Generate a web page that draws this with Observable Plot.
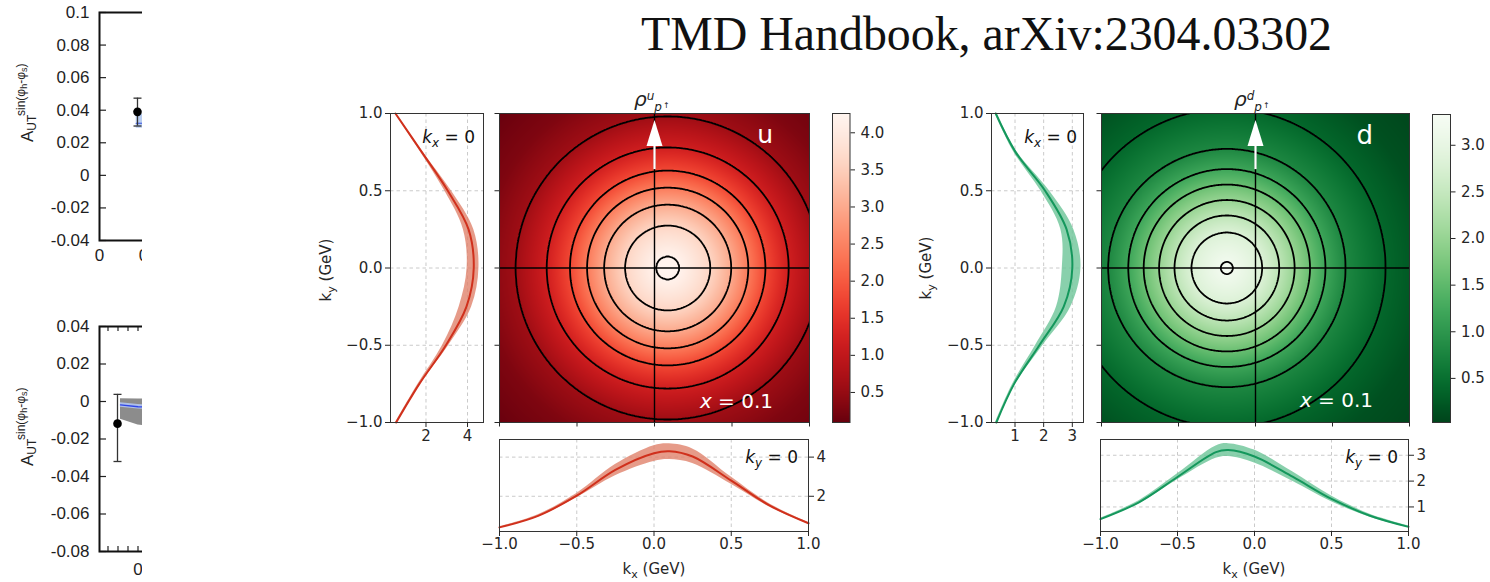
<!DOCTYPE html>
<html><head><meta charset="utf-8">
<script src="https://cdn.jsdelivr.net/npm/d3@7"></script>
<script src="https://cdn.jsdelivr.net/npm/@observablehq/plot@0.6"></script>
<style>
html,body{margin:0;padding:0;background:#fff;}
#fig{position:relative;width:1490px;height:582px;overflow:hidden;background:#fff;}
#fig svg{max-width:none !important;}
</style></head><body><div id="fig"></div>
<script>
// ---------------- DATA ----------------
// left fragment: A_UT asymmetry panels
const aTopYTicks = [-0.04, -0.02, 0, 0.02, 0.04, 0.06, 0.08, 0.1];
const aTopXTicks = [0, 0.1];
const aTopPtX = [0.0745], aTopPtY = [0.039], aTopPtLo = [0.0303], aTopPtHi = [0.0474];
const aTopBandX = [0.072, 0.1, 0.2], aTopBandLo = [0.029, 0.029, 0.029], aTopBandHi = [0.0375, 0.0375, 0.0375], aTopBandMid = [0.032, 0.032, 0.032];

const aBotYTicks = [-0.08, -0.06, -0.04, -0.02, 0, 0.02, 0.04];
const aBotXMinor = [-0.06, -0.04, -0.02, 0];
const aBotXTicks = [0];
const aBotPtX = [-0.041], aBotPtY = [-0.0118], aBotPtLo = [-0.032], aBotPtHi = [0.0038];
const aBotBandX = [-0.035, 0, 0.1], aBotBandLo = [-0.0095, -0.0125, -0.016], aBotBandHi = [0.0015, 0.0014, 0.0012];
const aBotLineMid = [-0.0018, -0.0028, -0.004];

// u quark density
const uSideK   = [-1, -0.75, -0.5, -0.25, 0, 0.25, 0.5, 0.75, 1];
const uSideMid = [0.56, 1.68, 2.96, 3.95, 4.3, 4.05, 3.05, 1.8, 0.53];
const uSideLo  = [0.53, 1.62, 2.8, 3.6, 3.98, 3.8, 2.9, 1.74, 0.5];
const uSideHi  = [0.59, 1.74, 3.1, 4.2, 4.55, 4.3, 3.22, 1.86, 0.56];
const uBotK    = [-1, -0.75, -0.5, -0.25, 0, 0.1, 0.25, 0.5, 0.75, 1];
const uBotMid  = [0.41, 1.0, 2.03, 3.35, 4.2, 4.3, 4.03, 2.8, 1.52, 0.62];
const uBotLo   = [0.38, 0.94, 1.92, 3.05, 3.78, 3.88, 3.68, 2.62, 1.44, 0.58];
const uBotHi   = [0.44, 1.06, 2.14, 3.62, 4.58, 4.68, 4.42, 2.98, 1.6, 0.66];
const uCenter  = [0.085, 0];
const uRad     = [0, 0.075, 0.275, 0.41, 0.52, 0.63, 0.78, 0.98, 1.2, 1.5, 1.8];
const uRadVal  = [4.26, 4.2, 3.6, 3.0, 2.4, 1.8, 1.2, 0.6, 0.3, 0.1, 0.05];
const uLevels  = [0.6, 1.2, 1.8, 2.4, 3.0, 3.6, 4.2];
const uCbar    = [0.095, 4.26];
const uCbarTicks = [0.5, 1.0, 1.5, 2.0, 2.5, 3.0, 3.5, 4.0];
const uSideXTicks = [2, 4], uBotYTicks = [2, 4];

// d quark density
const dSideK   = [-1, -0.75, -0.5, -0.25, 0, 0.25, 0.5, 0.75, 1];
const dSideMid = [0.35, 0.97, 1.85, 2.7, 3.0, 2.8, 2.05, 1.02, 0.33];
const dSideLo  = [0.32, 0.92, 1.72, 2.45, 2.65, 2.6, 1.9, 0.96, 0.3];
const dSideHi  = [0.38, 1.02, 1.98, 2.95, 3.3, 3.05, 2.2, 1.08, 0.36];
const dBotK    = [-1, -0.75, -0.5, -0.25, -0.17, 0, 0.25, 0.5, 0.75, 1];
const dBotMid  = [0.53, 1.18, 2.16, 3.12, 3.2, 2.95, 2.16, 1.31, 0.66, 0.23];
const dBotLo   = [0.5, 1.12, 2.05, 2.88, 2.95, 2.7, 1.98, 1.2, 0.6, 0.2];
const dBotHi   = [0.56, 1.24, 2.28, 3.36, 3.45, 3.2, 2.35, 1.42, 0.72, 0.27];
const dCenter  = [-0.186, 0];
const dRad     = [0, 0.039, 0.23, 0.34, 0.44, 0.54, 0.64, 0.77, 1.03, 1.3, 1.6, 1.9];
const dRadVal  = [3.3, 3.2, 2.8, 2.4, 2.0, 1.6, 1.2, 0.8, 0.4, 0.15, 0.04, 0.02];
const dLevels  = [0.4, 0.8, 1.2, 1.6, 2.0, 2.4, 2.8, 3.2];
const dCbar    = [0.027, 3.33];
const dCbarTicks = [0.5, 1.0, 1.5, 2.0, 2.5, 3.0];
const dSideXTicks = [1, 2, 3], dBotYTicks = [1, 2, 3];

const kTicks = [-1, -0.5, 0, 0.5, 1];
const kGrid = [-0.5, 0, 0.5];
// polarization arrow (ky values): tail, head base, tip
const arrowK = {kx: 0, tail: 0.64, base: 0.79, tip: 0.957};

// ---------------- HELPERS ----------------
const fig = document.getElementById("fig");
const fmt1 = d3.format(".1f");
const fmtInt = d3.format("d");
function place(node, parent, left, top) {
  node.style.position = "absolute"; node.style.left = left + "px"; node.style.top = top + "px";
  node.style.maxWidth = "none";
  parent.appendChild(node); return node;
}
function framed(parent, frame, m, opts, style = {}) {
  const [fl, ft, fw, fh] = frame, [mt, mr, mb, ml] = m;
  const p = Plot.plot({
    width: ml + fw + mr, height: mt + fh + mb,
    marginTop: mt, marginRight: mr, marginBottom: mb, marginLeft: ml,
    ...opts,
    style: {background: "transparent", overflow: "visible", maxWidth: "none", fontFamily: "DejaVu Sans", fontSize: "15px", color: "#262626", ...style}
  });
  return place(p, parent, fl - ml, ft - mt);
}
const zip = (k, mid, lo, hi) => k.map((v, i) => ({k: v, mid: mid[i], lo: lo[i], hi: hi[i]}));
const capSymbol = {draw(ctx) { ctx.moveTo(-4, 0); ctx.lineTo(4, 0); }};
const headSymbol = {draw(ctx) { ctx.moveTo(0, -13); ctx.lineTo(8, 13); ctx.lineTo(-8, 13); ctx.closePath(); }};
const grid = {stroke: "#c4c4c4", strokeOpacity: 1, strokeDasharray: "3.5,3", strokeWidth: 0.9};
const fmtA = d => d === 0 ? "0" : String(+d.toFixed(2));

// ---------------- LEFT FRAGMENT ----------------
function aPanel(clipTop, clipH, frameTop, frameH, domainX, domainY, yTicks, xTicks, xFmt, pt, band, extra) {
  const clip = document.createElement("div");
  Object.assign(clip.style, {position: "absolute", left: "0px", top: clipTop + "px", width: "142px", height: clipH + "px", overflow: "hidden"});
  fig.appendChild(clip);
  const fw = 101;
  framed(clip, [99, frameTop - clipTop, fw, frameH], [10, 0, 40, 99], {
    x: {domain: domainX, label: null}, y: {domain: domainY, label: null},
    marks: [
      ...band,
      Plot.tickY(yTicks, {y: d => d, insetRight: fw - 7, stroke: "#222", strokeWidth: 1.2}),
      ...extra(fw, frameH),
      Plot.ruleX(pt, {x: "x", y1: "lo", y2: "hi", stroke: "#333", strokeWidth: 1.3}),
      Plot.dot(pt, {x: "x", y: "lo", symbol: capSymbol, r: 5, stroke: "#333", fill: "none", strokeWidth: 1.3}),
      Plot.dot(pt, {x: "x", y: "hi", symbol: capSymbol, r: 5, stroke: "#333", fill: "none", strokeWidth: 1.3}),
      Plot.dot(pt, {x: "x", y: "y", r: 4.3, fill: "#000"}),
      Plot.frame({stroke: "#111", strokeWidth: 2}),
      Plot.axisY({ticks: yTicks, tickSize: 0, tickPadding: 10, tickFormat: fmtA, label: null}),
      Plot.axisX({ticks: xTicks, tickSize: 0, tickPadding: xFmt.pad, tickFormat: xFmt.f, label: null})
    ]
  }, {fontFamily: "Liberation Sans", fontSize: "17px", color: "#1e1e1e"});
}
const aTopPt = aTopPtX.map((x, i) => ({x, y: aTopPtY[i], lo: aTopPtLo[i], hi: aTopPtHi[i]}));
const aTopBand = aTopBandX.map((x, i) => ({x, lo: aTopBandLo[i], hi: aTopBandHi[i], mid: aTopBandMid[i]}));
aPanel(0, 290, 12, 228, [0, 101 / 510], [-0.04, 0.1], aTopYTicks, aTopXTicks,
  {f: d => d === 0 ? "0" : d.toFixed(1), pad: 8}, aTopPt,
  [Plot.areaY(aTopBand, {x: "x", y1: "lo", y2: "hi", fill: "#b8cdf0"}),
   Plot.lineY(aTopBand, {x: "x", y: "mid", stroke: "#3a55e0", strokeWidth: 1.2})],
  () => []);

const aBotPt = aBotPtX.map((x, i) => ({x, y: aBotPtY[i], lo: aBotPtLo[i], hi: aBotPtHi[i]}));
const aBotBand = aBotBandX.map((x, i) => ({x, lo: aBotBandLo[i], hi: aBotBandHi[i], mid: aBotLineMid[i]}));
aPanel(300, 282, 326, 225, [-0.077, -0.077 + 101 / 500], [-0.08, 0.04], aBotYTicks, aBotXTicks,
  {f: d => "0", pad: 11}, aBotPt,
  [Plot.areaY(aBotBand, {x: "x", y1: "lo", y2: "hi", fill: "#8c8c8c"}),
   Plot.areaY(aBotBand, {x: "x", y1: d => d.mid - 0.0012, y2: d => d.mid + 0.0012, fill: "#aebfe8"}),
   Plot.lineY(aBotBand, {x: "x", y: "mid", stroke: "#2f45e6", strokeWidth: 1.3})],
  (fw, fh) => [
    Plot.tickX(aBotXMinor, {x: d => d, insetBottom: fh - 5, stroke: "#222", strokeWidth: 1.2}),
    Plot.tickX(aBotXMinor, {x: d => d, insetTop: fh - 5, stroke: "#222", strokeWidth: 1.2})
  ]);

// ---------------- TMD PANELS ----------------
function tmdPanel(cfg) {
  const field = d3.scaleLinear().domain(cfg.rad).range(cfg.radVal).clamp(true);
  const f = (x, y) => field(Math.hypot(x - cfg.center[0], y - cfg.center[1]));
  const color = {type: "linear", scheme: cfg.scheme, reverse: true, domain: cfg.cbar};
  const side = zip(cfg.sideK, cfg.sideMid, cfg.sideLo, cfg.sideHi);
  const bot = zip(cfg.botK, cfg.botMid, cfg.botLo, cfg.botHi);
  // side profile (kx = 0)
  framed(fig, cfg.sideFrame, [6, 6, 36, 80], {
    x: {domain: cfg.sideDom, label: null}, y: {domain: [-1, 1], label: null},
    marks: [
      Plot.gridX(cfg.sideXTicks, grid), Plot.gridY(kGrid, grid),
      Plot.areaX(side, {y: "k", x1: "lo", x2: "hi", fill: cfg.band, fillOpacity: 0.8, curve: "catmull-rom"}),
      Plot.line(side, {x: "mid", y: "k", stroke: cfg.line, strokeWidth: 2, curve: "catmull-rom"}),
      Plot.frame({stroke: "#333", strokeWidth: 1}),
      Plot.axisX({ticks: cfg.sideXTicks, tickSize: 5, tickPadding: 3, tickFormat: fmtInt, label: null}),
      Plot.axisY({ticks: kTicks, tickSize: 5, tickPadding: 3, tickFormat: fmt1, label: null})
    ]
  });
  // density map
  const hm = cfg.heatFrame;
  const arrowD = [arrowK];
  framed(fig, hm, [6, 6, 12, 12], {
    x: {domain: [-1, 1], label: null}, y: {domain: [-1, 1], label: null}, color,
    marks: [
      Plot.raster({x1: -1, y1: -1, x2: 1, y2: 1, fill: f, pixelSize: 1}),
      Plot.contour({x1: -1.25, y1: -1.25, x2: 1.25, y2: 1.25, value: f, thresholds: cfg.levels, stroke: "#000", strokeWidth: 1.8, fill: "none", pixelSize: 1, clip: true}),
      Plot.ruleX([0], {stroke: "#000", strokeWidth: 1.4}),
      Plot.ruleY([0], {stroke: "#000", strokeWidth: 1.4}),
      Plot.link(arrowD, {x1: "kx", x2: "kx", y1: "tail", y2: "base", stroke: "#fff", strokeWidth: 2.2}),
      Plot.dot(arrowD, {x: "kx", y: d => (d.base + d.tip) / 2, symbol: headSymbol, r: 6, fill: "#fff", stroke: "none"}),
      Plot.frame({stroke: "#333", strokeWidth: 1}),
      Plot.axisX({ticks: kTicks, tickSize: 4.5, tickFormat: () => "", label: null}),
      Plot.axisY({ticks: kTicks, tickSize: 4.5, tickFormat: () => "", label: null})
    ]
  });
  // colorbar
  framed(fig, cfg.cbarFrame, [6, 45, 6, 6], {
    x: {domain: [0, 1], axis: null}, y: {domain: cfg.cbar, label: null}, color,
    marks: [
      Plot.raster({x1: 0, x2: 1, y1: cfg.cbar[0], y2: cfg.cbar[1], fill: (x, y) => y, pixelSize: 1}),
      Plot.frame({stroke: "#333", strokeWidth: 1}),
      Plot.axisY({anchor: "right", ticks: cfg.cbarTicks, tickSize: 4.5, tickPadding: 6, tickFormat: fmt1, label: null})
    ]
  });
  // bottom profile (ky = 0)
  framed(fig, cfg.botFrame, [6, 40, 40, 10], {
    x: {domain: [-1, 1], label: null}, y: {domain: cfg.botDom, label: null},
    marks: [
      Plot.gridX(kGrid, grid), Plot.gridY(cfg.botYTicks, grid),
      Plot.areaY(bot, {x: "k", y1: "lo", y2: "hi", fill: cfg.band, fillOpacity: 0.8, curve: "catmull-rom"}),
      Plot.line(bot, {x: "k", y: "mid", stroke: cfg.line, strokeWidth: 2, curve: "catmull-rom"}),
      Plot.frame({stroke: "#333", strokeWidth: 1}),
      Plot.axisX({ticks: kTicks, tickSize: 5, tickPadding: 2, tickFormat: fmt1, label: null}),
      Plot.axisY({anchor: "right", ticks: cfg.botYTicks, tickSize: 5, tickPadding: 3, tickFormat: fmtInt, label: null})
    ]
  });
}

tmdPanel({
  scheme: "reds", line: "#d0301c", band: "#e0826c",
  sideK: uSideK, sideMid: uSideMid, sideLo: uSideLo, sideHi: uSideHi,
  botK: uBotK, botMid: uBotMid, botLo: uBotLo, botHi: uBotHi,
  center: uCenter, rad: uRad, radVal: uRadVal, levels: uLevels,
  cbar: uCbar, cbarTicks: uCbarTicks, sideXTicks: uSideXTicks, botYTicks: uBotYTicks,
  sideDom: [0.29, 4.77], botDom: [0.2, 4.9],
  sideFrame: [390, 113, 93, 309], heatFrame: [499, 113, 310, 309],
  cbarFrame: [832, 113, 17.5, 309], botFrame: [499, 439, 309, 92]
});
tmdPanel({
  scheme: "greens", line: "#14975c", band: "#6cc497",
  sideK: dSideK, sideMid: dSideMid, sideLo: dSideLo, sideHi: dSideHi,
  botK: dBotK, botMid: dBotMid, botLo: dBotLo, botHi: dBotHi,
  center: dCenter, rad: dRad, radVal: dRadVal, levels: dLevels,
  cbar: dCbar, cbarTicks: dCbarTicks, sideXTicks: dSideXTicks, botYTicks: dBotYTicks,
  sideDom: [0.18, 3.39], botDom: [0.05, 3.61],
  sideFrame: [991, 113, 92, 309], heatFrame: [1101, 113, 308, 309],
  cbarFrame: [1432, 114, 18, 308], botFrame: [1100, 439, 308, 92]
});

// ---------------- TEXT OVERLAY ----------------
function rhoLabel(x, q) {
  return `<text x="${x}" y="106" font-family="DejaVu Sans" font-style="italic" font-size="20" fill="#222">ρ<tspan font-size="12" dy="-6">${q}</tspan><tspan font-size="12" dx="0" dy="11">p</tspan><tspan font-style="normal" font-size="8" dx="1" dy="-3">↑</tspan></text>`;
}
function kEq(xr, y, sub, size = 17) {
  return `<text x="${xr}" y="${y}" text-anchor="end" font-family="DejaVu Sans" font-size="${size}" fill="#111"><tspan font-style="italic">k</tspan><tspan font-style="italic" font-size="${size * 0.7}" dy="4">${sub}</tspan><tspan dy="-4"> = 0</tspan></text>`;
}
function kyLabel(xb, yc) {
  return `<text transform="translate(${xb},${yc}) rotate(-90)" text-anchor="middle" font-family="DejaVu Sans" font-size="15" fill="#262626">k<tspan font-size="11" dy="4">y</tspan><tspan dy="-4"> (GeV)</tspan></text>`;
}
function kxLabel(xc, yb) {
  return `<text x="${xc}" y="${yb}" text-anchor="middle" font-family="DejaVu Sans" font-size="15" fill="#262626">k<tspan font-size="11" dy="4">x</tspan><tspan dy="-4"> (GeV)</tspan></text>`;
}
function xEq(xr, y) {
  return `<text x="${xr}" y="${y}" text-anchor="end" font-family="DejaVu Sans" font-size="20" fill="#fff"><tspan font-style="italic">x</tspan> = 0.1</text>`;
}
function aLabel(x, y) {
  return `<text transform="translate(${x},${y}) rotate(-90)" font-family="Liberation Sans" font-size="17" fill="#222">A<tspan font-size="12" dy="3">UT</tspan><tspan font-size="12" dy="-11">sin(φ</tspan><tspan font-size="9" dy="2">h</tspan><tspan font-size="12" dy="-2">-φ</tspan><tspan font-size="9" dy="2">s</tspan><tspan font-size="12" dy="-2">)</tspan></text>`;
}
const ov = document.createElementNS("http://www.w3.org/2000/svg", "svg");
ov.setAttribute("width", 1490); ov.setAttribute("height", 582);
ov.style.position = "absolute"; ov.style.left = "0px"; ov.style.top = "0px"; ov.style.pointerEvents = "none";
ov.innerHTML = `
<text x="641" y="50" font-family="Liberation Serif" font-size="48" fill="#111" textLength="691" lengthAdjust="spacingAndGlyphs">TMD Handbook, arXiv:2304.03302</text>
${aLabel(33, 142)}${aLabel(33, 466)}
${rhoLabel(634, "u")}${rhoLabel(1234, "d")}
<text x="773" y="143" text-anchor="end" font-family="DejaVu Sans" font-size="25" fill="#fff">u</text>
<text x="1373" y="144" text-anchor="end" font-family="DejaVu Sans" font-size="26" fill="#fff">d</text>
${xEq(773, 408)}${xEq(1373, 407)}
${kEq(475, 143, "x")}${kEq(1077, 143, "x")}
${kEq(798, 463, "y")}${kEq(1398, 463, "y")}
${kyLabel(331, 270)}${kyLabel(931, 268)}
${kxLabel(654, 574)}${kxLabel(1254, 574)}
`;
fig.appendChild(ov);
</script></body></html>
